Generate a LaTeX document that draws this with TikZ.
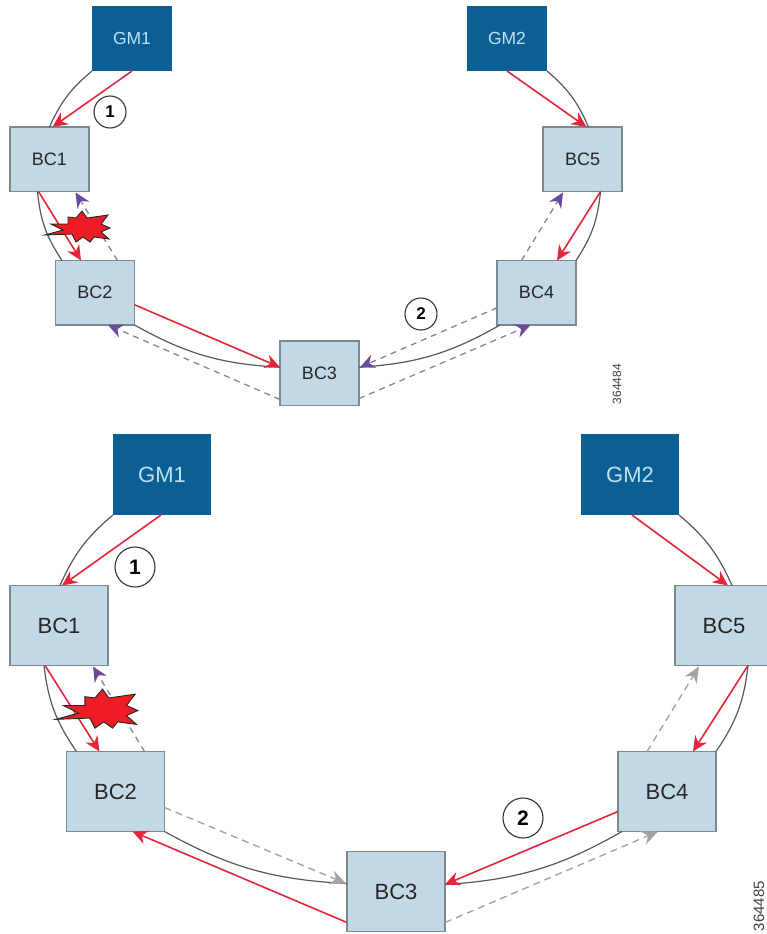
\documentclass[tikz,border=0pt]{standalone}
\usepackage{fontspec}
\setmainfont{Liberation Sans}
\usetikzlibrary{arrows.meta,positioning}
\definecolor{gmblue}{HTML}{0B5F94}
\definecolor{bcblue}{HTML}{C2D8E5}
\definecolor{bcedge}{HTML}{7A8A93}
\definecolor{gmtext}{HTML}{BFE3F2}
\definecolor{redarrow}{HTML}{E2273A}
\definecolor{purplearrow}{HTML}{6A4A9C}
\definecolor{dashgray}{HTML}{A3A3A3}
\definecolor{dashpurple}{HTML}{8A7F9E}
\definecolor{linkgray}{HTML}{55595B}
\definecolor{starred}{HTML}{EE1C25}
\tikzset{
  box/.style={rectangle,inner sep=0pt,outer sep=0pt,anchor=north west},
  bcsmall/.style={box,draw=bcedge,line width=1.2pt,fill=bcblue,text=black!85,font=\fontsize{18}{18}\selectfont,minimum width=79pt,minimum height=64.5pt},
  gmsmall/.style={box,fill=gmblue,text=gmtext,font=\fontsize{17.5}{18}\selectfont,minimum width=80pt,minimum height=65pt},
  bcbig/.style={box,draw=bcedge,line width=1.2pt,fill=bcblue,text=black!85,font=\fontsize{22}{22}\selectfont,minimum width=98pt,minimum height=80pt},
  gmbig/.style={box,fill=gmblue,text=gmtext,font=\fontsize{22}{22}\selectfont,minimum width=98pt,minimum height=81pt},
  link/.style={draw=linkgray,line width=1.2pt},
  redlink/.style={draw=redarrow,line width=1.6pt,-{Stealth[length=15pt,width=14pt]}},
  purplelink/.style={draw=dashpurple,line width=1.3pt,dash pattern=on 6pt off 5pt,-{Stealth[length=15pt,width=14pt,color=purplearrow]}},
  graylink/.style={draw=dashgray,line width=1.4pt,dash pattern=on 7pt off 5pt,-{Stealth[length=16pt,width=14pt,color=dashgray]}},
  numsmall/.style={circle,draw=black!80,line width=1.1pt,fill=white,inner sep=0pt,minimum size=32pt,font=\fontsize{17}{17}\selectfont\bfseries},
  numbig/.style={circle,draw=black!80,line width=1.1pt,fill=white,inner sep=0pt,minimum size=40pt,font=\fontsize{21}{21}\selectfont\bfseries},
  serial/.style={rotate=90,inner sep=0pt,text=black!75},
  burst/.style={draw=black!85,line width=0.9pt,fill=starred,line join=miter}
}
\newcommand{\burstshape}{(-35,9) -- (-17,4) -- (-29,-2) -- (-12,-2) -- (-12,-9) -- (-4,-8) -- (2,-15) -- (7,-8) -- (28,-11) -- (21,-2) -- (30,2) -- (21,6) -- (29,13) -- (14,11) -- (10,16) -- (3,11) -- (-4,16) -- (-8,8) -- cycle}
\begin{document}
\begin{tikzpicture}[x=1pt,y=-1pt]
\useasboundingbox (0,0) rectangle (767,934);
\clip (0,0) rectangle (767,934);
% upper ring
\node[gmsmall] (GMa) at (92,6) {GM1};
\node[gmsmall] (GMb) at (467,6) {GM2};
\node[bcsmall] (BCa) at (10,127) {BC1};
\node[bcsmall] (BCb) at (55.5,260.5) {BC2};
\node[bcsmall] (BCc) at (280,341) {BC3};
\node[bcsmall] (BCd) at (497,260.5) {BC4};
\node[bcsmall] (BCe) at (543,127) {BC5};
\draw[link] (GMa.south west) to[bend right=13] ([xshift=0pt]BCa.north);
\draw[link] ([xshift=-12pt]BCa.south) to[bend right=14] ([xshift=-33pt]BCb.north);
\draw[link] (BCb.south east) to[bend right=13] ([yshift=6pt]BCc.west);
\draw[link] ([xshift=3pt]BCd.south west) to[bend left=13] ([yshift=6pt]BCc.east);
\draw[link] ([xshift=18pt]BCe.south) to[bend left=14] (BCd.north east);
\draw[link] (GMb.south east) to[bend left=13] ([xshift=6pt]BCe.north);
\draw[redlink] (GMa.south) -- ([xshift=3pt]BCa.north);
\draw[redlink] ([xshift=-11pt]BCa.south) -- ([xshift=-14pt]BCb.north);
\draw[redlink] ([yshift=-12pt]BCb.east) -- ([yshift=6pt]BCc.west);
\draw[redlink] (GMb.south) -- ([xshift=4pt]BCe.north);
\draw[redlink] ([xshift=18pt]BCe.south) -- ([xshift=20.5pt]BCd.north);
\draw[purplelink] ([xshift=22.5pt]BCb.north) -- ([xshift=26pt,yshift=-1pt]BCa.south);
\draw[purplelink] ([yshift=6pt]BCc.south west) -- ([xshift=13pt]BCb.south);
\draw[purplelink] ([yshift=-15pt]BCd.west) -- ([yshift=6pt,xshift=1pt]BCc.east);
\draw[purplelink] ([yshift=7pt]BCc.south east) -- ([xshift=-6pt]BCd.south);
\draw[purplelink] ([xshift=-15pt]BCd.north) -- ([xshift=-19.5pt,yshift=-1pt]BCe.south);
\node[numsmall] (na) at (110,112) {1};
\node[numsmall] (nb) at (421,314) {2};
\begin{scope}[shift={(80,226)}]
\draw[burst] \burstshape;
\end{scope}
\node[serial,font=\fontsize{12}{12}\selectfont] (sa) at (617,384) {364484};
% lower ring
\node[gmbig] (GMc) at (113,434) {GM1};
\node[gmbig] (GMd) at (581,434) {GM2};
\node[bcbig] (BCf) at (10,585.5) {BC1};
\node[bcbig] (BCg) at (66.5,751.5) {BC2};
\node[bcbig] (BCh) at (347,851.5) {BC3};
\node[bcbig] (BCi) at (618,751.5) {BC4};
\node[bcbig] (BCj) at (675,585.5) {BC5};
\draw[link] (GMc.south west) to[bend right=13] ([xshift=1pt]BCf.north);
\draw[link] ([xshift=-15pt]BCf.south) to[bend right=14] ([xshift=-39pt]BCg.north);
\draw[link] (BCg.south east) to[bend right=13] ([yshift=8pt]BCh.west);
\draw[link] ([xshift=4pt]BCi.south west) to[bend left=13] ([yshift=7pt]BCh.east);
\draw[link] ([xshift=24pt]BCj.south) to[bend left=14] (BCi.north east);
\draw[link] (GMd.south east) to[bend left=13] ([xshift=8pt]BCj.north);
\draw[redlink] ([xshift=-1pt]GMc.south) -- ([xshift=3pt]BCf.north);
\draw[redlink] ([xshift=-14pt]BCf.south) -- ([xshift=-16pt]BCg.north);
\draw[redlink] ([yshift=9pt]BCh.south west) -- ([xshift=17pt]BCg.south);
\draw[redlink] ([yshift=20pt]BCi.south west) -- ([yshift=7pt]BCh.east);
\draw[redlink] ([xshift=2pt]GMd.south) -- ([xshift=4pt]BCj.north);
\draw[redlink] ([xshift=24pt]BCj.south) -- ([xshift=26pt]BCi.north);
\draw[purplelink] ([xshift=29pt]BCg.north) -- ([xshift=34pt,yshift=-1pt]BCf.south);
\draw[graylink] ([yshift=24pt]BCg.south east) -- ([yshift=8pt,xshift=-1pt]BCh.west);
\draw[graylink] ([yshift=9pt]BCh.south east) -- ([xshift=-9pt]BCi.south);
\draw[graylink] ([xshift=-20pt]BCi.north) -- ([xshift=-25pt,yshift=-1pt]BCj.south);
\node[numbig] (nc) at (135,567) {1};
\node[numbig] (nd) at (523,818) {2};
\begin{scope}[shift={(100,708)},scale=1.26]
\draw[burst] \burstshape;
\end{scope}
\node[serial,font=\fontsize{15}{15}\selectfont,anchor=east] (sb) at (759,881) {364485};
\end{tikzpicture}
\end{document}
